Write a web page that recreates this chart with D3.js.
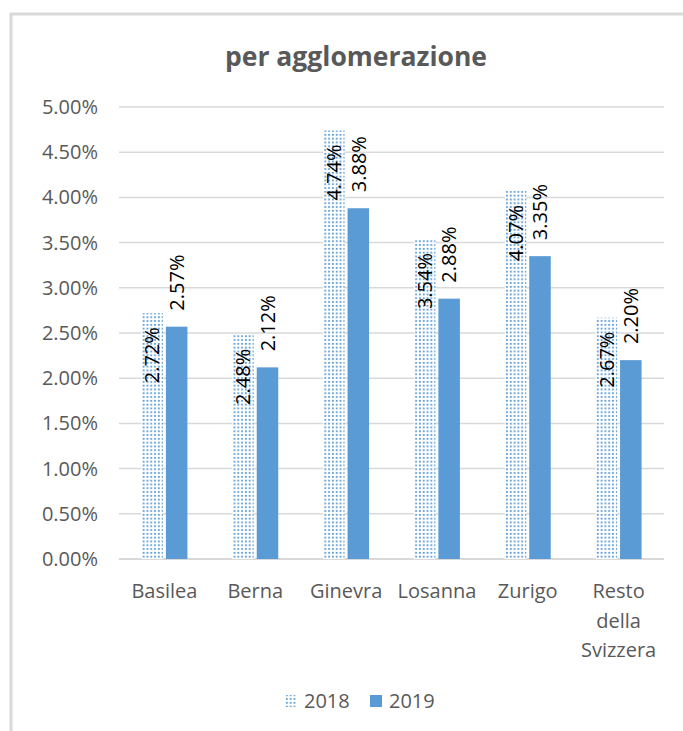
<!DOCTYPE html>
<html>
<head>
<meta charset="utf-8" />
<title>per agglomerazione</title>
<script src="https://d3js.org/d3.v7.min.js"></script>
<style>
  body { margin: 0; background: #ffffff; }
  text { font-family: 'Open Sans', sans-serif; }
</style>
</head>
<body>
<svg id="chart"></svg>
<script>
var categories = ["Basilea", "Berna", "Ginevra", "Losanna", "Zurigo", "Resto della Svizzera"];
var series = ["2018", "2019"];
var values2018 = [2.72, 2.48, 4.74, 3.54, 4.07, 2.67];
var values2019 = [2.57, 2.12, 3.88, 2.88, 3.35, 2.20];
var yTicks = [0, 0.5, 1, 1.5, 2, 2.5, 3, 3.5, 4, 4.5, 5];

var width = 683, height = 731;
var margin = {top: 107, right: 19, bottom: 172, left: 119};
var blue = "#5b9bd5";

var svg = d3.select("#chart").attr("width", width).attr("height", height);

// chart frame (cut at the right and bottom like the source)
svg.append("path")
  .attr("d", "M11," + height + "V14H" + width)
  .attr("fill", "none")
  .attr("stroke", "#d9d9d9")
  .attr("stroke-width", 3);

var defs = svg.append("defs");
var pat = defs.append("pattern")
  .attr("id", "dots")
  .attr("patternUnits", "userSpaceOnUse")
  .attr("width", 3.8).attr("height", 3.8);
pat.append("rect").attr("width", 3.8).attr("height", 3.8).attr("fill", "#ffffff");
pat.append("rect").attr("x", 0.9).attr("y", 0.9).attr("width", 1.8).attr("height", 1.8).attr("fill", blue);

var x = d3.scaleBand()
  .domain(categories)
  .range([margin.left, width - margin.right]);

var x1 = d3.scaleBand()
  .domain(series)
  .range([x.bandwidth() / 2 - 23, x.bandwidth() / 2 + 23])
  .paddingInner(0.12);

var y = d3.scaleLinear()
  .domain([0, 5])
  .range([height - margin.bottom, margin.top]);

// gridlines
svg.append("g").selectAll("line")
  .data(yTicks)
  .enter().append("line")
  .attr("x1", margin.left)
  .attr("x2", width - margin.right)
  .attr("y1", function(d) { return y(d); })
  .attr("y2", function(d) { return y(d); })
  .attr("stroke", "#d9d9d9")
  .attr("stroke-width", function(d) { return d === 0 ? 2 : 1.5; });

// y axis labels
var yAxis = d3.axisLeft(y)
  .tickValues(yTicks)
  .tickSize(0)
  .tickPadding(21)
  .tickFormat(function(d) { return d.toFixed(2) + "%"; });
var gy = svg.append("g")
  .attr("transform", "translate(" + margin.left + ",0)")
  .call(yAxis);
gy.select(".domain").remove();
gy.selectAll("text")
  .attr("fill", "#595959")
  .attr("font-size", "20px")
  .attr("font-family", "'Open Sans', sans-serif");

// bars
var rows = categories.map(function(c, i) {
  return {cat: c, vals: [{s: "2018", v: values2018[i]}, {s: "2019", v: values2019[i]}]};
});

var groups = svg.append("g").selectAll("g")
  .data(rows)
  .enter().append("g")
  .attr("transform", function(d) { return "translate(" + x(d.cat) + ",0)"; });

groups.selectAll("rect")
  .data(function(d) { return d.vals; })
  .enter().append("rect")
  .attr("x", function(d) { return x1(d.s); })
  .attr("width", x1.bandwidth())
  .attr("y", function(d) { return y(d.v); })
  .attr("height", function(d) { return y(0) - y(d.v); })
  .attr("fill", function(d) { return d.s === "2018" ? "url(#dots)" : blue; });

// data labels, rotated
groups.selectAll("text.lbl")
  .data(function(d) { return d.vals; })
  .enter().append("text")
  .attr("class", "lbl")
  .attr("transform", function(d) {
    var cx = x1(d.s) + x1.bandwidth() / 2;
    var cy = d.s === "2018" ? y(d.v) + 14 : y(d.v) - 16;
    return "translate(" + cx + "," + cy + ") rotate(-90)";
  })
  .attr("text-anchor", function(d) { return d.s === "2018" ? "end" : "start"; })
  .attr("dy", "0.36em")
  .attr("font-size", "20px")
  .attr("fill", "#000000")
  .text(function(d) { return d.v.toFixed(2) + "%"; });

// x axis labels with wrapping
var xLabels = svg.append("g").selectAll("text")
  .data(categories)
  .enter().append("text")
  .attr("x", function(d) { return x(d) + x.bandwidth() / 2; })
  .attr("y", y(0) + 39)
  .attr("text-anchor", "middle")
  .attr("font-size", "20px")
  .attr("fill", "#595959");
xLabels.each(function(d) {
  var words = d.split(" ");
  var t = d3.select(this);
  if (words.length > 2) {
    words.forEach(function(w, i) {
      t.append("tspan")
        .attr("x", x(d) + x.bandwidth() / 2)
        .attr("dy", i === 0 ? 0 : 29.5)
        .text(w);
    });
  } else {
    t.text(d);
  }
});

// title
svg.append("text")
  .attr("x", 356)
  .attr("y", 66)
  .attr("text-anchor", "middle")
  .attr("font-size", "26.5px")
  .attr("font-weight", "bold")
  .attr("fill", "#595959")
  .text("per agglomerazione");

// legend
var legend = svg.append("g").attr("transform", "translate(285,701)");
var legendItems = legend.selectAll("g")
  .data(series)
  .enter().append("g")
  .attr("transform", function(d, i) { return "translate(" + (i * 85) + ",0)"; });
legendItems.append("rect")
  .attr("x", 0).attr("y", -6)
  .attr("width", 12).attr("height", 12)
  .attr("fill", function(d) { return d === "2018" ? "url(#dots)" : blue; });
legendItems.append("text")
  .attr("x", 19)
  .attr("dy", "0.36em")
  .attr("font-size", "20px")
  .attr("fill", "#595959")
  .text(function(d) { return d; });
</script>
</body>
</html>
